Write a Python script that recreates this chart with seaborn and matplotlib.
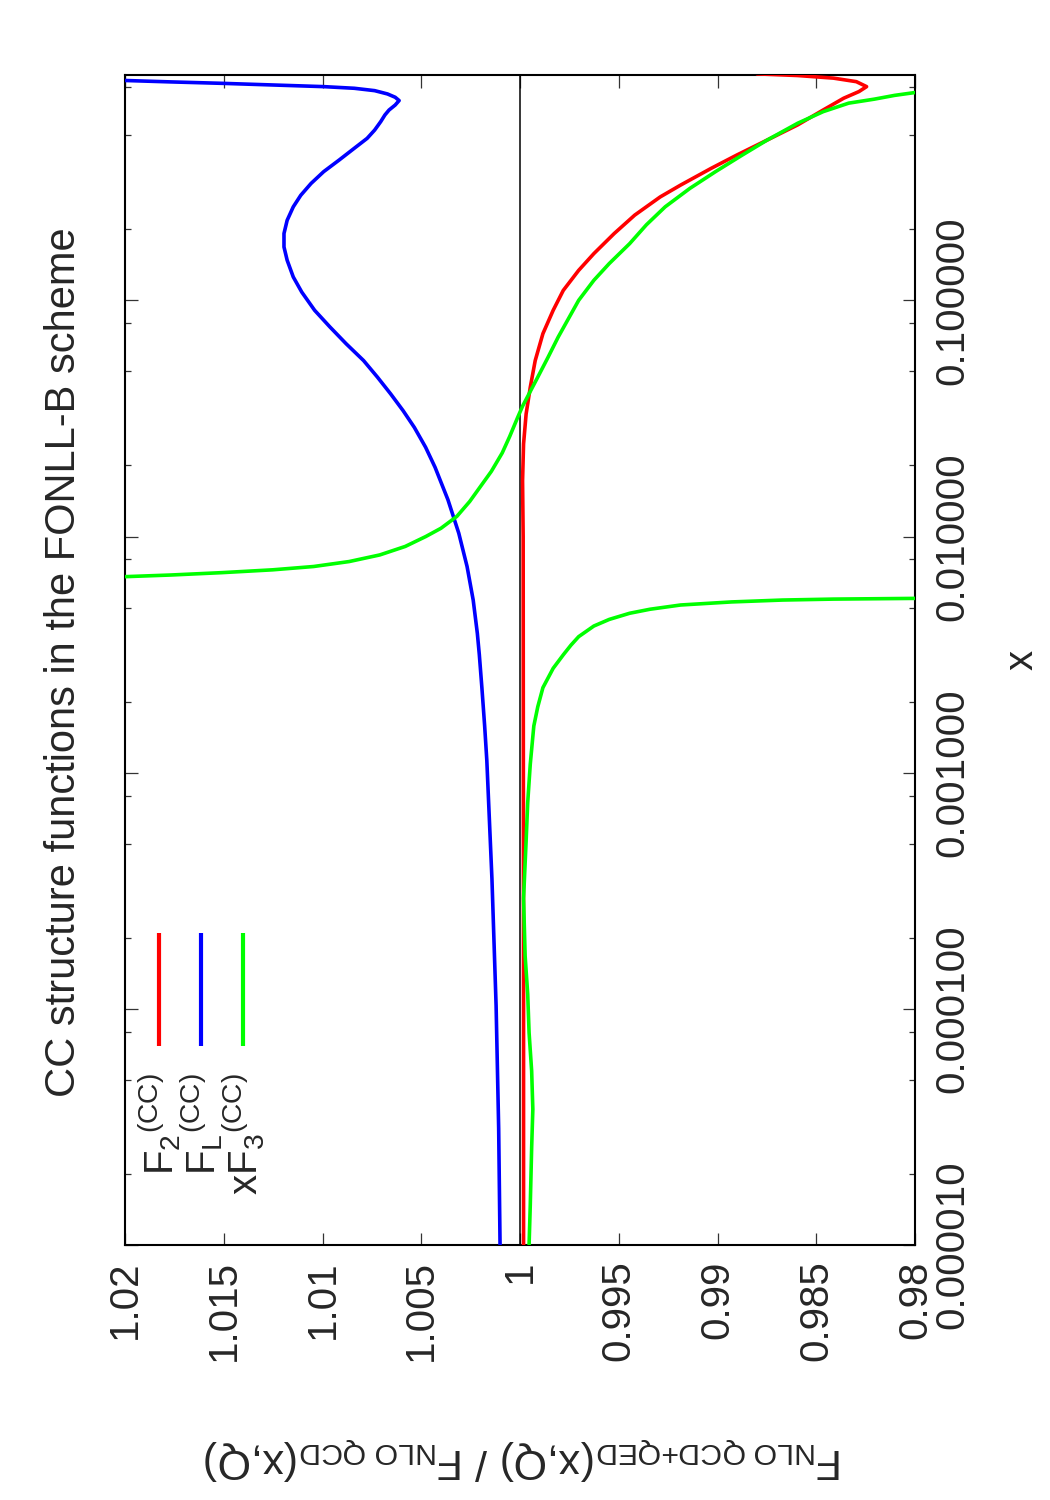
import numpy as np
import pandas as pd
import matplotlib
matplotlib.use("Agg")
import matplotlib.pyplot as plt
import seaborn as sns
from matplotlib.ticker import FixedLocator, FuncFormatter, LogLocator, NullFormatter

# --- values: log10(x) and ratio NLO QCD+QED / NLO QCD ---
f2_logx = [-5.0, -4.0, -3.0, -2.0, -1.764, -1.608, -1.481, -1.368, -1.255, -1.141,
           -1.042, -0.958, -0.873, -0.802, -0.717, -0.639, -0.562, -0.512, -0.441,
           -0.385, -0.321, -0.257, -0.194, -0.144, -0.116, -0.095, -0.074, -0.059,
           -0.048, -0.041]
f2_ratio = [0.99982, 0.99982, 0.99983, 0.99984, 0.99987, 0.99982, 0.99969, 0.99948,
            0.99923, 0.99884, 0.99832, 0.99781, 0.99703, 0.99626, 0.99523, 0.99419,
            0.99290, 0.99187, 0.99032, 0.98903, 0.98748, 0.98594, 0.98465, 0.98361,
            0.98284, 0.98245, 0.98297, 0.98413, 0.98594, 0.98800]

fl_logx = [-5.0, -4.506, -3.987, -3.451, -2.948, -2.802, -2.640, -2.500, -2.410, -2.269,
           -2.127, -1.986, -1.844, -1.707, -1.622, -1.538, -1.467, -1.396, -1.325,
           -1.255, -1.184, -1.113, -1.042, -0.965, -0.901, -0.830, -0.774, -0.717,
           -0.661, -0.604, -0.555, -0.505, -0.455, -0.406, -0.356, -0.314, -0.279,
           -0.243, -0.215, -0.194, -0.173, -0.154, -0.140, -0.126, -0.112, -0.102,
           -0.095, -0.088, -0.081, -0.075, -0.069]
fl_ratio = [1.00101, 1.00108, 1.00121, 1.00142, 1.00168, 1.00179, 1.00193, 1.00206,
            1.00216, 1.00237, 1.00268, 1.00310, 1.00365, 1.00430, 1.00478, 1.00535,
            1.00592, 1.00655, 1.00722, 1.00792, 1.00880, 1.00962, 1.01040, 1.01105,
            1.01148, 1.01179, 1.01195, 1.01195, 1.01179, 1.01148, 1.01110, 1.01058,
            1.00994, 1.00916, 1.00839, 1.00774, 1.00736, 1.00705, 1.00684, 1.00663,
            1.00632, 1.00612, 1.00632, 1.00671, 1.00736, 1.00839, 1.00994, 1.01252,
            1.01510, 1.01768, 1.02000]

# xF3 has a pole near x ~ 0.006, so it comes in two branches
xf3_low_logx = [-5.0, -4.831, -4.588, -4.425, -4.263, -4.101, -3.938, -3.776, -3.532,
                -3.289, -3.127, -2.964, -2.802, -2.721, -2.640, -2.558, -2.500, -2.460,
                -2.424, -2.379, -2.351, -2.325, -2.308, -2.290, -2.277, -2.269, -2.265,
                -2.262, -2.259]
xf3_low_ratio = [0.99954, 0.99948, 0.99941, 0.99935, 0.99941, 0.99954, 0.99961, 0.99974,
                 0.99982, 0.99969, 0.99961, 0.99948, 0.99930, 0.99910, 0.99884, 0.99832,
                 0.99780, 0.99742, 0.99703, 0.99626, 0.99548, 0.99445, 0.99342, 0.99187,
                 0.98929, 0.98671, 0.98413, 0.98000, 0.97500]
xf3_high_logx = [-2.173, -2.170, -2.163, -2.153, -2.141, -2.127, -2.106, -2.078, -2.042,
                 -2.0, -1.965, -1.915, -1.852, -1.788, -1.724, -1.646, -1.576, -1.498,
                 -1.448, -1.325, -1.241, -1.156, -1.078, -1.0, -0.915, -0.844, -0.760,
                 -0.680, -0.604, -0.526, -0.455, -0.385, -0.321, -0.250, -0.201, -0.165,
                 -0.148, -0.132, -0.120, -0.105]
xf3_high_ratio = [1.02500, 1.02000, 1.01768, 1.01510, 1.01252, 1.01045, 1.00865, 1.00710,
                  1.00581, 1.00477, 1.00400, 1.00320, 1.00255, 1.00200, 1.00145, 1.00090,
                  1.00052, 1.00013, 0.99987, 0.99910, 0.99858, 0.99807, 0.99755, 0.99703,
                  0.99626, 0.99548, 0.99445, 0.99360, 0.99265, 0.99140, 0.99010, 0.98875,
                  0.98748, 0.98594, 0.98465, 0.98336, 0.98206, 0.98103, 0.98000, 0.97800]

ratio_ticks = [1.02, 1.015, 1.01, 1.005, 1.0, 0.995, 0.99, 0.985, 0.98]
x_ticks = [1e-5, 1e-4, 1e-3, 1e-2, 1e-1]

RED, BLUE, GREEN = "#ff0000", "#0000ff", "#00ff00"
FS = 29

sns.set_style("white")
plt.rcParams["font.family"] = ["Liberation Sans", "DejaVu Sans"]
plt.rcParams["mathtext.fontset"] = "custom"
plt.rcParams["mathtext.rm"] = "Liberation Sans"
plt.rcParams["mathtext.it"] = "Liberation Sans"
plt.rcParams["mathtext.bf"] = "Liberation Sans:bold"

fig = plt.figure(figsize=(10.5, 15), dpi=100)
ax = fig.add_axes([125 / 1050, 255 / 1500, 790 / 1050, 1170 / 1500])
ax.set_yscale("log")

ax.axvline(1.0, color="black", lw=1.1, zorder=1)

curves = [
    (f2_logx, f2_ratio, RED),
    (fl_logx, fl_ratio, BLUE),
    (xf3_low_logx, xf3_low_ratio, GREEN),
    (xf3_high_logx, xf3_high_ratio, GREEN),
]
for lx, rr, col in curves:
    df = pd.DataFrame({"x": 10 ** np.array(lx), "ratio": rr})
    sns.lineplot(data=df, x="ratio", y="x", orient="y", sort=False, estimator=None,
                 color=col, lw=2.6, ax=ax, zorder=3)

ax.set_xlim(1.02, 0.98)
ax.set_ylim(1e-5, 0.9)
ax.set_xlabel("")
ax.set_ylabel("")

ax.xaxis.set_major_locator(FixedLocator(ratio_ticks))
ax.xaxis.set_major_formatter(FuncFormatter(lambda v, p: f"{v:g}"))
ax.yaxis.set_major_locator(FixedLocator(x_ticks))
ax.yaxis.set_major_formatter(FuncFormatter(lambda v, p: f"{v:f}"))
ax.yaxis.set_minor_locator(LogLocator(base=10, subs=(2, 5, 8)))
ax.yaxis.set_minor_formatter(NullFormatter())

ax.tick_params(axis="both", which="both", direction="in", top=True, bottom=True,
               left=True, right=True, labelleft=False, labelright=True,
               color="#333333", width=0.9, labelsize=FS)
ax.tick_params(axis="both", which="major", length=9)
ax.tick_params(axis="y", which="minor", length=4.5)
ax.tick_params(axis="x", pad=11)
ax.tick_params(axis="y", pad=13)
plt.setp(ax.get_xticklabels(), rotation=90, ha="center", va="top")
plt.setp(ax.get_yticklabels(), rotation=90, ha="left", va="center")

for sp in ax.spines.values():
    sp.set_linewidth(1.5)
    sp.set_color("black")

# legend drawn by hand, rotated like the rest of the page
legend_items = [(r"F$_{2}{}^{(\mathrm{CC})}$", RED, 0.043),
                (r"F$_{\mathrm{L}}{}^{(\mathrm{CC})}$", BLUE, 0.096),
                (r"xF$_{3}{}^{(\mathrm{CC})}$", GREEN, 0.149)]
for lab, col, xa in legend_items:
    ax.plot([xa, xa], [0.170, 0.267], transform=ax.transAxes, color=col, lw=3,
             clip_on=False, solid_capstyle="butt")
    ax.text(xa, 0.147, lab, transform=ax.transAxes, rotation=90, ha="center",
            va="top", fontsize=FS)

fig.text(64 / 1050, 1 - 662 / 1500, "CC structure functions in the FONLL-B scheme",
         rotation=90, ha="center", va="center", fontsize=30)
fig.text(1022 / 1050, 1 - 660 / 1500, "x", rotation=90, ha="center", va="center",
         fontsize=FS)
fig.text(524 / 1050, 1 - 1458 / 1500,
         r"F$_{\mathrm{NLO\ QCD{+}QED}}$(x,Q) / F$_{\mathrm{NLO\ QCD}}$(x,Q)",
         rotation=180, ha="center", va="center", fontsize=31)

fig.savefig("out.png", dpi=100, facecolor="white")
